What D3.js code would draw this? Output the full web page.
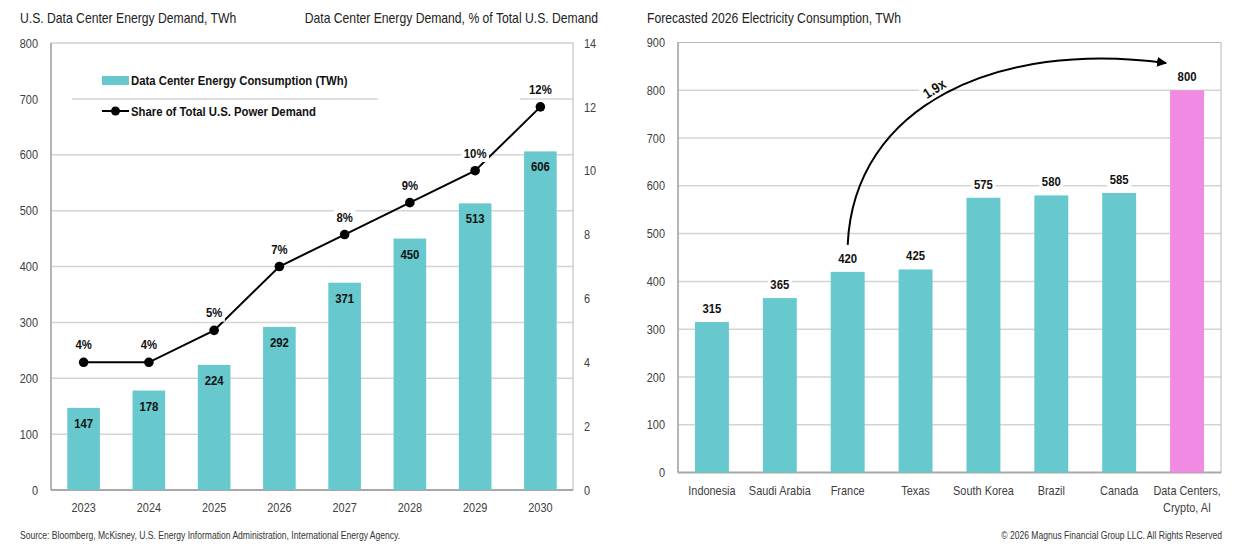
<!DOCTYPE html>
<html>
<head>
<meta charset="utf-8">
<script src="https://cdn.jsdelivr.net/npm/d3@7"></script>
<style>
  body { margin: 0; background: #fff; }
  svg { display: block; font-family: "Liberation Sans", Arial, sans-serif; }
</style>
</head>
<body>
<svg id="chart" width="1245" height="546"></svg>
<script>
// Left panel data
const years = ["2023", "2024", "2025", "2026", "2027", "2028", "2029", "2030"];
const demandTwh = [147, 178, 224, 292, 371, 450, 513, 606];
const sharePct = [4, 4, 5, 7, 8, 9, 10, 12];
const leftTicks = [0, 100, 200, 300, 400, 500, 600, 700, 800];
const rightTicks = [0, 2, 4, 6, 8, 10, 12, 14];

// Right panel data
const regions = ["Indonesia", "Saudi Arabia", "France", "Texas", "South Korea", "Brazil", "Canada", "Data Centers,|Crypto, AI"];
const consumption = [315, 365, 420, 425, 575, 580, 585, 800];
const consTicks = [0, 100, 200, 300, 400, 500, 600, 700, 800, 900];

const TEAL = "#67c8ce";
const PINK = "#f08ae3";
const GRID = "#d4d4d4";
const FRAME = "#b8b8b8";
const TICK = "#404040";
const NARROW = 0.84; // no Arial Narrow here, so squeeze Liberation Sans

const svg = d3.select("#chart");

// squeeze text horizontally around its anchor point
function narrow(sel) {
    sel.each(function () {
        const t = d3.select(this);
        const x = +t.attr("x") || 0, y = +t.attr("y") || 0;
        const extra = t.attr("transform") || "";
        t.attr("x", 0).attr("y", 0)
            .attr("transform", `translate(${x},${y}) ${extra} scale(${NARROW},1)`);
    });
    return sel;
}

// put a white box behind a text node
function whiteBg(sel, padX, padY) {
    sel.each(function () {
        const b = this.getBBox();
        d3.select(this.parentNode).insert("rect", () => this)
            .attr("transform", d3.select(this).attr("transform"))
            .attr("x", b.x - padX).attr("y", b.y - padY)
            .attr("width", b.width + 2 * padX).attr("height", b.height + 2 * padY)
            .attr("fill", "#fff");
    });
}

function frame(g, x0, x1, y0, y1) {
    g.append("rect").attr("x", x0).attr("y", y0).attr("width", x1 - x0).attr("height", y1 - y0)
        .attr("fill", "none").attr("stroke", FRAME).attr("stroke-width", 1);
    g.append("line").attr("x1", x0).attr("x2", x1).attr("y1", y1).attr("y2", y1)
        .attr("stroke", "#a8a8a8").attr("stroke-width", 2);
    g.append("line").attr("x1", x0).attr("x2", x0).attr("y1", y0).attr("y2", y1)
        .attr("stroke", "#a8a8a8").attr("stroke-width", 1.5);
}

function styleAxis(a) {
    a.select(".domain").remove();
    a.selectAll("text").attr("font-size", 13).attr("fill", TICK).attr("font-family", null);
}

// ---------- Left chart ----------
{
    const L = { x0: 51, x1: 573, y0: 43, y1: 490 };
    const g = svg.append("g");

    const x = d3.scaleBand().domain(years).range([L.x0, L.x1]).paddingInner(0.5).paddingOuter(0.25);
    const y = d3.scaleLinear().domain([0, 800]).range([L.y1, L.y0]);
    const y2 = d3.scaleLinear().domain([0, 14]).range([L.y1, L.y0]);

    narrow(g.append("text").attr("x", 20).attr("y", 23).attr("font-size", 14.5).attr("fill", "#222")
        .text("U.S. Data Center Energy Demand, TWh"));
    narrow(g.append("text").attr("x", 598).attr("y", 23).attr("font-size", 14.5).attr("fill", "#222")
        .attr("text-anchor", "end").text("Data Center Energy Demand, % of Total U.S. Demand"));

    // gridlines
    g.append("g").selectAll("line").data(leftTicks.slice(1, -1)).enter().append("line")
        .attr("x1", L.x0).attr("x2", L.x1)
        .attr("y1", d => y(d)).attr("y2", d => y(d))
        .attr("stroke", GRID).attr("stroke-width", 1.5);

    // legend box gaps on the 700 line
    g.append("rect").attr("x", L.x0 + 1).attr("y", y(700) - 3).attr("width", 20).attr("height", 6).attr("fill", "#fff");
    g.append("rect").attr("x", 378).attr("y", y(700) - 3).attr("width", 142).attr("height", 6).attr("fill", "#fff");

    frame(g, L.x0, L.x1, L.y0, L.y1);

    const axL = g.append("g").attr("transform", `translate(${L.x0 - 13},0)`)
        .call(d3.axisLeft(y).tickValues(leftTicks).tickSize(0).tickPadding(0));
    const axR = g.append("g").attr("transform", `translate(${L.x1 + 11},0)`)
        .call(d3.axisRight(y2).tickValues(rightTicks).tickSize(0).tickPadding(0));
    const axB = g.append("g").attr("transform", `translate(0,${L.y1 + 7})`)
        .call(d3.axisBottom(x).tickSize(0).tickPadding(6));
    [axL, axR, axB].forEach(a => { styleAxis(a); narrow(a.selectAll("text")); });

    // bars
    g.append("g").selectAll("rect").data(demandTwh).enter().append("rect")
        .attr("x", (d, i) => x(years[i]))
        .attr("y", d => y(d))
        .attr("width", x.bandwidth())
        .attr("height", d => y(0) - y(d))
        .attr("fill", TEAL);

    narrow(g.append("g").selectAll("text").data(demandTwh).enter().append("text")
        .attr("x", (d, i) => x(years[i]) + x.bandwidth() / 2)
        .attr("y", d => y(d) + 20)
        .attr("text-anchor", "middle").attr("font-size", 13.5).attr("font-weight", "bold")
        .attr("fill", "#111").text(d => d));

    // line
    const line = d3.line().x((d, i) => x(years[i]) + x.bandwidth() / 2).y(d => y2(d));
    g.append("path").datum(sharePct).attr("d", line)
        .attr("fill", "none").attr("stroke", "#000").attr("stroke-width", 2);
    g.append("g").selectAll("circle").data(sharePct).enter().append("circle")
        .attr("cx", (d, i) => x(years[i]) + x.bandwidth() / 2)
        .attr("cy", d => y2(d)).attr("r", 4.8).attr("fill", "#000");

    const pl = narrow(g.append("g").selectAll("text").data(sharePct).enter().append("text")
        .attr("x", (d, i) => x(years[i]) + x.bandwidth() / 2)
        .attr("y", d => y2(d) - 13)
        .attr("text-anchor", "middle").attr("font-size", 13.5).attr("font-weight", "bold")
        .attr("fill", "#111").text(d => d + "%"));
    whiteBg(pl, 3, 1);

    // legend
    const lg = g.append("g");
    lg.append("rect").attr("x", 102).attr("y", 76).attr("width", 27).attr("height", 9).attr("fill", TEAL);
    narrow(lg.append("text").attr("x", 131).attr("y", 85).attr("font-size", 13.5).attr("font-weight", "bold")
        .attr("fill", "#111").text("Data Center Energy Consumption (TWh)"));
    lg.append("line").attr("x1", 102).attr("x2", 129).attr("y1", 111).attr("y2", 111)
        .attr("stroke", "#000").attr("stroke-width", 2);
    lg.append("circle").attr("cx", 115.5).attr("cy", 111).attr("r", 4.5).attr("fill", "#000");
    narrow(lg.append("text").attr("x", 131).attr("y", 116).attr("font-size", 13.5).attr("font-weight", "bold")
        .attr("fill", "#111").text("Share of Total U.S. Power Demand"));
}

// ---------- Right chart ----------
{
    const R = { x0: 678, x1: 1221, y0: 42.5, y1: 472.5 };
    const g = svg.append("g");

    const x = d3.scaleBand().domain(regions).range([R.x0, R.x1]).paddingInner(0.5).paddingOuter(0.25);
    const y = d3.scaleLinear().domain([0, 900]).range([R.y1, R.y0]);

    narrow(g.append("text").attr("x", 647).attr("y", 23).attr("font-size", 14.5).attr("fill", "#222")
        .text("Forecasted 2026 Electricity Consumption, TWh"));

    g.append("g").selectAll("line").data(consTicks.slice(1, -1)).enter().append("line")
        .attr("x1", R.x0).attr("x2", R.x1)
        .attr("y1", d => y(d)).attr("y2", d => y(d))
        .attr("stroke", GRID).attr("stroke-width", 1.5);

    frame(g, R.x0, R.x1, R.y0, R.y1);

    const axL = g.append("g").attr("transform", `translate(${R.x0 - 13},0)`)
        .call(d3.axisLeft(y).tickValues(consTicks).tickSize(0).tickPadding(0));
    const axB = g.append("g").attr("transform", `translate(0,${R.y1 + 7})`)
        .call(d3.axisBottom(x).tickSize(0).tickPadding(6));
    styleAxis(axL);
    styleAxis(axB);
    // two-line category labels
    axB.selectAll(".tick text").each(function (d) {
        const parts = d.split("|");
        const t = d3.select(this).text(null);
        parts.forEach((p, i) => t.append("tspan").attr("x", 0).attr("dy", i ? "1.3em" : "0.71em").text(p));
    });
    narrow(axL.selectAll("text"));
    narrow(axB.selectAll(".tick text"));

    g.append("g").selectAll("rect").data(consumption).enter().append("rect")
        .attr("x", (d, i) => x(regions[i]))
        .attr("y", d => y(d))
        .attr("width", x.bandwidth())
        .attr("height", d => y(0) - y(d))
        .attr("fill", (d, i) => i === regions.length - 1 ? PINK : TEAL);

    const vl = narrow(g.append("g").selectAll("text").data(consumption).enter().append("text")
        .attr("x", (d, i) => x(regions[i]) + x.bandwidth() / 2)
        .attr("y", d => y(d) - 9)
        .attr("text-anchor", "middle").attr("font-size", 13.5).attr("font-weight", "bold")
        .attr("fill", "#111").text(d => d));
    whiteBg(vl, 3, 1);

    // growth arrow from France to Data Centers
    const fx = x("France") + x.bandwidth() / 2;
    const dx = x(regions[7]) + x.bandwidth() / 2;
    const sy = y(consumption[2]) - 27;
    g.append("defs").append("marker")
        .attr("id", "arrow").attr("viewBox", "0 -5 10 10")
        .attr("refX", 9).attr("refY", 0)
        .attr("markerWidth", 5).attr("markerHeight", 5)
        .attr("orient", "auto")
        .append("path").attr("d", "M0,-5L10,0L0,5").attr("fill", "#000");
    g.append("path")
        .attr("d", `M${fx},${sy} C${fx + 6},105 ${fx + 150},40 ${dx - 21},63`)
        .attr("fill", "none").attr("stroke", "#000").attr("stroke-width", 2)
        .attr("marker-end", "url(#arrow)");
    const gx = narrow(g.append("text").attr("x", 937).attr("y", 93)
        .attr("font-size", 14.5).attr("font-weight", "bold").attr("fill", "#111")
        .attr("text-anchor", "middle")
        .attr("transform", "rotate(-32)").text("1.9x"));
    whiteBg(gx, 2, 0);
}

// footer
narrow(svg.append("text").attr("x", 20).attr("y", 539).attr("font-size", 10.2).attr("fill", "#333")
    .text("Source: Bloomberg, McKisney, U.S. Energy Information Administration, International Energy Agency."));
narrow(svg.append("text").attr("x", 1222).attr("y", 539).attr("font-size", 10.2).attr("fill", "#333")
    .attr("text-anchor", "end").text("\u00a9 2026 Magnus Financial Group LLC. All Rights Reserved"));
</script>
</body>
</html>
